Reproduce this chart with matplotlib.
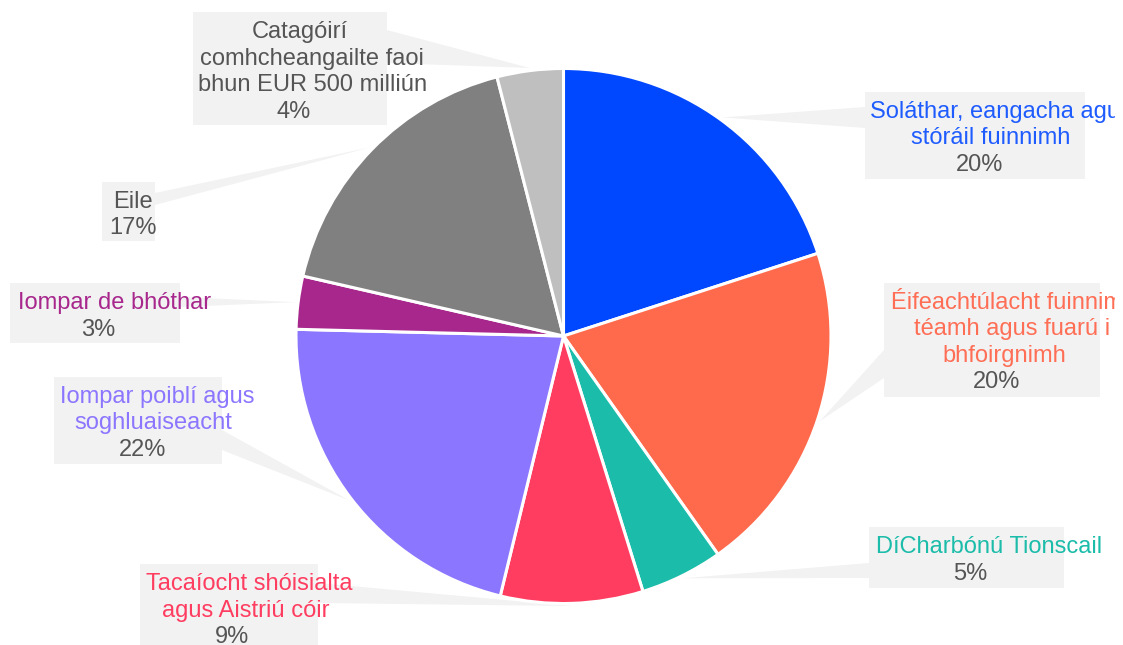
import numpy as np
import matplotlib
matplotlib.use("Agg")
import matplotlib.pyplot as plt
from matplotlib.patches import Rectangle, Polygon
from matplotlib.transforms import Bbox

# ---------------------------------------------------------------- data
labels = ["Soláthar, eangacha agus\nstóráil fuinnimh",
          "Éifeachtúlacht fuinnimh,\ntéamh agus fuarú i\nbhfoirgnimh",
          "DíCharbónú Tionscail",
          "Tacaíocht shóisialta\nagus Aistriú cóir",
          "Iompar poiblí agus\nsoghluaiseacht",
          "Iompar de bhóthar",
          "Eile",
          "Catagóirí\ncomhcheangailte faoi\nbhun EUR 500 milliún"]
values = [20.0, 20.2, 5.0, 8.6, 21.6, 3.2, 17.4, 4.0]
colors = ["#0048FF", "#FF6A4C", "#1BBCA9", "#FF3D60",
          "#8B76FF", "#A7278D", "#808080", "#BFBFBF"]
name_colors = ["#1F5CFF", "#FF6E55", "#1BBCA9", "#FF3D60",
               "#8B76FF", "#A7278D", "#555555", "#555555"]

# ---------------------------------------------------------------- layout (pixels, y down)
W, H = 1123, 645
cx, cy, R = 563.5, 336, 267.5
# label boxes: x0, y0, x1, y1
boxes = [(865, 92, 1085, 179), (884, 283, 1100, 397), (869, 527, 1064, 588),
         (140, 564, 318, 660), (54, 377, 222, 464), (10, 283, 180, 343),
         (102, 182, 155, 241), (193, 12, 387, 125)]
# where the callout wedge meets the box
bases = [((865, 107), (865, 128)), ((884, 350), (884, 378)), ((869, 563), (869, 578)),
         ((318, 583), (318, 603)), ((222, 430), (222, 450)), ((180, 297), (180, 307)),
         ((155, 193), (155, 205)), ((387, 30), (387, 63))]
box_col = "#F2F2F2"
pct_col = "#555555"
fs = 17
k = 0.8  # text is laid out as if narrower than it renders

fig = plt.figure(figsize=(W / 100, H / 100), dpi=100)
ax = fig.add_axes([0, 0, 1, 1])
wedges, _ = ax.pie(values, colors=colors, startangle=-90, counterclock=True,
                   center=(cx, cy), radius=R,
                   wedgeprops=dict(edgecolor="white", linewidth=2.2, zorder=2))
ax.set_xlim(0, W)
ax.set_ylim(H, 0)
ax.set_aspect("auto")
ax.axis("off")

renderer = fig.canvas.get_renderer()
clip = Bbox([[0, 0], [1115, H]])

for i, wdg in enumerate(wedges):
    # callout wedge from the box to the slice edge
    mid = np.deg2rad((wdg.theta1 + wdg.theta2) / 2)
    tip = (cx + R * 1.01 * np.cos(mid), cy + R * 1.01 * np.sin(mid))
    ax.add_patch(Polygon([bases[i][0], bases[i][1], tip], closed=True,
                         facecolor=box_col, edgecolor="none", zorder=0.5))
    x0, y0, x1, y1 = boxes[i]
    ax.add_patch(Rectangle((x0, y0), x1 - x0, y1 - y0, facecolor=box_col,
                           edgecolor="none", zorder=0.6))
    c = (x0 + x1) / 2
    lines = labels[i].split("\n") + ["{:.0f}%".format(values[i])]
    for j, line in enumerate(lines):
        col = pct_col if j == len(lines) - 1 else name_colors[i]
        t = ax.text(0, y0 + 26 + 26.5 * j, line, ha="left", va="baseline",
                    fontsize=fs, family="Liberation Sans", color=col, zorder=3)
        w = t.get_window_extent(renderer).width
        t.set_x(c - k * w / 2)
        t.set_clip_on(True)
        t.set_clip_box(clip)

fig.savefig("out.png", dpi=100)
